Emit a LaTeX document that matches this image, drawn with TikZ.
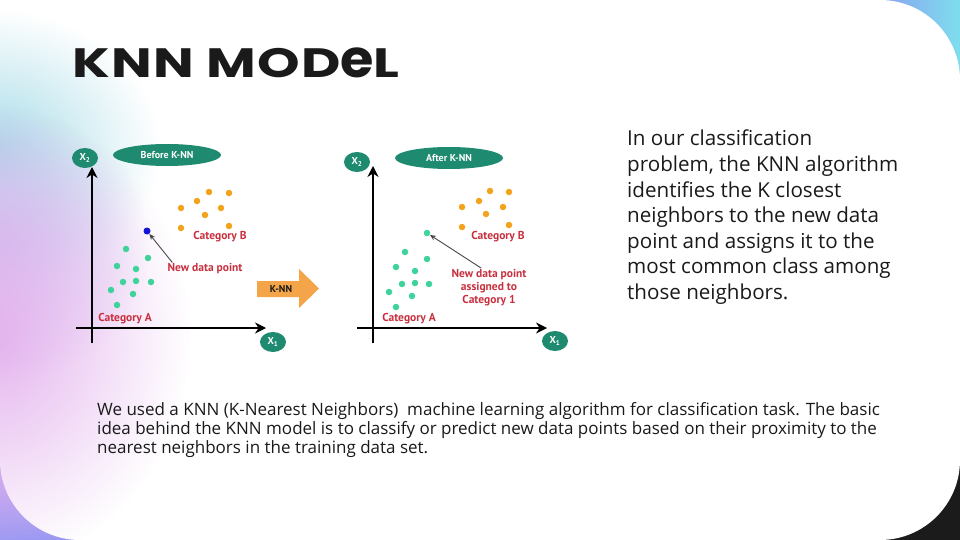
\documentclass[tikz,border=0pt]{standalone}
\usepackage{fontspec}
\setmainfont{Open Sans}
\newfontfamily\titlefont{Poppins}[FakeStretch=1.32, LetterSpace=3]
\newfontfamily\chartfont{PT Sans}
\usetikzlibrary{arrows.meta,shapes.geometric,fadings}

\definecolor{knnteal}{HTML}{1E8A6F}
\definecolor{ptgreen}{HTML}{3DD39B}
\definecolor{ptorange}{HTML}{F2A31B}
\definecolor{lblred}{HTML}{C9303F}
\definecolor{knnorange}{HTML}{F4A549}
\definecolor{ptblue}{HTML}{1414D8}
\definecolor{inkdark}{HTML}{1A1A1A}
\definecolor{glowteal}{HTML}{A6DCE8}
\definecolor{glowpink}{HTML}{E4B2EE}
\definecolor{glowlav}{HTML}{C9C2EE}
\definecolor{cornerviolet}{HTML}{8C8CF0}
\definecolor{cornercyan}{HTML}{7FDDEE}
\definecolor{cornerblack}{HTML}{1B1B1B}
\definecolor{cornerblue}{HTML}{9597F3}

\tikzfading[name=glowfade, inner color=transparent!0, outer color=transparent!100]

\tikzset{
  axislbl/.style={ellipse, fill=knnteal, text=white, inner sep=0pt,
    minimum width=26pt, minimum height=20pt, font=\chartfont\bfseries\fontsize{10}{10}\selectfont},
  banner/.style={ellipse, fill=knnteal, text=white, inner sep=0pt,
    minimum width=108pt, minimum height=22pt, font=\chartfont\bfseries\fontsize{10}{10}\selectfont},
  axisline/.style={line width=1.6pt, -{Stealth[length=11pt,width=11pt]}},
  catlbl/.style={text=lblred, inner sep=0pt, align=center,
    font=\chartfont\bfseries\fontsize{11.5}{13}\selectfont},
  dotA/.style={circle, fill=ptgreen, inner sep=0pt, minimum size=6.5pt},
  dotB/.style={circle, fill=ptorange, inner sep=0pt, minimum size=6.5pt},
  dotNew/.style={circle, fill=ptblue, inner sep=0pt, minimum size=7pt},
  pointer/.style={draw=inkdark!80, line width=0.9pt, -{Stealth[length=6pt,width=5pt]}},
  % multi-line text nodes: the base anchor sits on the last line
  bodytext/.style={text=inkdark, inner sep=0pt, anchor=base west, align=left},
}

\begin{document}
\begin{tikzpicture}[x=1pt,y=-1pt]
\useasboundingbox (0,0) rectangle (960,540);

% slide background and corner colours
\fill[white] (0,0) rectangle (960,540);
\shade[left color=cornerviolet, right color=cornercyan] (850,0) rectangle (960,110);
\fill[cornerblack] (850,430) rectangle (960,540);
\shade[top color=glowpink, bottom color=cornerblue] (0,430) rectangle (110,540);

% white card with rounded corners
\fill[white, rounded corners=80pt] (0,0) rectangle (960,540);
\fill[white] (0,0) rectangle (120,120);

% soft glows along the left edge
\fill[glowteal, path fading=glowfade] (-10,150) ellipse [x radius=170, y radius=140];
\fill[glowlav, path fading=glowfade] (-10,245) ellipse [x radius=160, y radius=140];
\fill[glowpink, path fading=glowfade] (-10,335) ellipse [x radius=200, y radius=230];

% title
\node[anchor=base west, inner sep=0pt, text=inkdark,
  font=\titlefont\bfseries\fontsize{41}{41}\selectfont] (title) at (72,78)
  {KNN MOD\scalebox{1}[1.28]{e}L};

% ---------- left chart: before K-NN ----------
\coordinate (ly0) at (92,343);
\coordinate (ly1) at (92,167);
\coordinate (lx0) at (76,328);
\coordinate (lx1) at (266,328);
\draw[axisline] (ly0) -- (ly1);
\draw[axisline] (lx0) -- (lx1);
\node[axislbl] (lX2) at (85,158) {X\textsubscript{2}};
\node[axislbl] (lX1) at (273,342) {X\textsubscript{1}};
\node[banner] (before) at (167,155) {Before K-NN};

\foreach \n/\x/\y in {1/209/192,2/229/193,3/197/201,4/221/208,5/181/208,6/205/215,7/181/228,8/229/226}
  \node[dotB] (lb\n) at (\x,\y) {};
\foreach \n/\x/\y in {1/126/249,2/148/258,3/117/266,4/136/269,5/123/282,6/136/281,7/151/282,8/111/290,9/133/294,10/117/305}
  \node[dotA] (la\n) at (\x,\y) {};
\node[dotNew] (lnew) at (147,231) {};

\node[catlbl] (lcatB) at (220,237) {Category B};
\node[catlbl] (lcatA) at (125,319) {Category A};
\node[catlbl] (lnewlbl) at (205,269) {New data point};
\draw[pointer] ([xshift=5pt,yshift=1pt]lnewlbl.north west) -- (lnew);

% ---------- K-NN arrow ----------
\fill[knnorange] (257,281) -- (299,281) -- (299,269) -- (319,288.5) -- (299,308)
  -- (299,297) -- (257,297) -- cycle;
\node[text=inkdark, inner sep=0pt, font=\chartfont\bfseries\fontsize{10}{10}\selectfont]
  (knn) at (281,289) {K-NN};

% ---------- right chart: after K-NN ----------
\coordinate (ry0) at (373,343);
\coordinate (ry1) at (373,166);
\coordinate (rx0) at (357,328);
\coordinate (rx1) at (547,328);
\draw[axisline] (ry0) -- (ry1);
\draw[axisline] (rx0) -- (rx1);
\node[axislbl] (rX2) at (357,162) {X\textsubscript{2}};
\node[axislbl] (rX1) at (555,341) {X\textsubscript{1}};
\node[banner] (after) at (449,158) {After K-NN};

\foreach \n/\x/\y in {1/490/191,2/509/192,3/479/201,4/503/207,5/462/207,6/486/214,7/462/227,8/509/225}
  \node[dotB] (rb\n) at (\x,\y) {};
\foreach \n/\x/\y in {1/405/252,2/427/259,3/396/267,4/415/271,5/402/284,6/415/283,7/429/284,8/389/292,9/412/296,10/396/307}
  \node[dotA] (ra\n) at (\x,\y) {};
\node[dotA] (rnew) at (427,233) {};

\node[catlbl] (rcatB) at (498,237) {Category B};
\node[catlbl] (rcatA) at (409,319) {Category A};
\node[catlbl, anchor=north] (rnewlbl) at (489,269) {New data point\\assigned to\\Category 1};
\draw[pointer] ([xshift=-8pt,yshift=1pt]rnewlbl.north) -- (rnew);

% ---------- text ----------
\node[bodytext, font=\fontsize{20.6}{25.6}\selectfont] (explain) at (627,299.5)
  {In our classification\\problem, the KNN algorithm\\identifies the K closest\\neighbors to the new data\\point and assigns it to the\\most common class among\\those neighbors.};

\node[bodytext, font=\fontsize{17}{19}\selectfont] (summary) at (97,453.5)
  {We used a KNN (K-Nearest Neighbors)\ \ machine learning algorithm for classification task. The basic\\idea behind the KNN model is to classify or predict new data points based on their proximity to the\\nearest neighbors in the training data set.};

\end{tikzpicture}
\end{document}
